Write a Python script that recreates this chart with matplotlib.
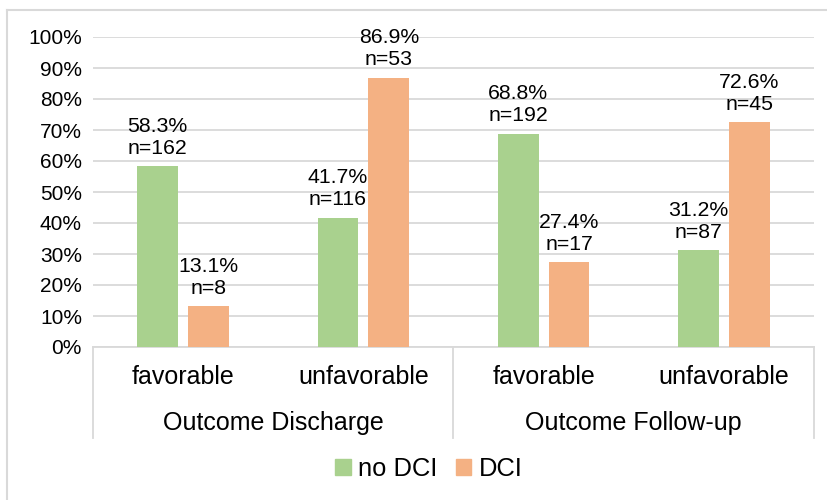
import numpy as np
import matplotlib.pyplot as plt
from matplotlib.lines import Line2D
from matplotlib.patches import Patch

plt.rcParams['font.family'] = ['Liberation Sans', 'DejaVu Sans']

# data
groups = ['Outcome Discharge', 'Outcome Follow-up']
outcomes = ['favorable', 'unfavorable', 'favorable', 'unfavorable']
no_dci_pct = [58.3, 41.7, 68.8, 31.2]
no_dci_n = [162, 116, 192, 87]
dci_pct = [13.1, 86.9, 27.4, 72.6]
dci_n = [8, 53, 17, 45]

green = '#A9D18E'
orange = '#F4B183'
grid_c = '#D9D9D9'

W, H = 828, 500
fig = plt.figure(figsize=(W / 100, H / 100), dpi=100)
ax = fig.add_axes([93 / W, 1 - 347 / H, (814 - 93) / W, (347 - 37) / H])

x = np.arange(len(outcomes))
bw = 0.227
off = 0.141
b1 = ax.bar(x - off, no_dci_pct, bw, color=green, zorder=3)
b2 = ax.bar(x + off, dci_pct, bw, color=orange, zorder=3)

for bars, pct, n in [(b1, no_dci_pct, no_dci_n), (b2, dci_pct, dci_n)]:
    for b, p, k in zip(bars, pct, n):
        ax.annotate(f'{p:.1f}%\nn={k}', (b.get_x() + b.get_width() / 2, p),
                    xytext=(0, 6), textcoords='offset points',
                    ha='center', va='bottom', fontsize=15.3, linespacing=1.2)

ax.set_xlim(-0.5, len(outcomes) - 0.5)
ax.set_ylim(0, 100)
ax.set_yticks(np.arange(0, 101, 10))
ax.set_yticklabels([f'{v}%' for v in range(0, 101, 10)], fontsize=15)
ax.yaxis.grid(True, color=grid_c, lw=1.3, zorder=0)
ax.tick_params(axis='y', length=0, pad=8)
ax.set_xticks([])
for s in ['top', 'right', 'left']:
    ax.spines[s].set_visible(False)
ax.spines['bottom'].set_color(grid_c)
ax.spines['bottom'].set_linewidth(1.3)

# two-level category axis
tr = ax.get_xaxis_transform()
for i, lab in enumerate(outcomes):
    ax.text(i, -0.097, lab, transform=tr, ha='center', va='center', fontsize=18)
for g, lab in enumerate(groups):
    ax.text(2 * g + 0.5, -0.245, lab, transform=tr, ha='center', va='center', fontsize=18)
for xd in [-0.5, 1.5, 3.5]:
    ax.add_line(Line2D([xd, xd], [0, -0.294], transform=tr, color=grid_c,
                       lw=1.3, clip_on=False))

# chart frame (left and top edges)
fig.add_artist(Line2D([7 / W, 7 / W], [0, 1 - 10 / H], color=grid_c, lw=1.5))
fig.add_artist(Line2D([7 / W, 1], [1 - 10 / H, 1 - 10 / H], color=grid_c, lw=1.5))

handles = [Patch(color=green), Patch(color=orange)]
fig.legend(handles, ['no DCI', 'DCI'], loc='center', bbox_to_anchor=(429 / W, 1 - 469 / H),
           ncol=2, frameon=False, fontsize=18.4, handlelength=0.6, handleheight=0.6,
           handletextpad=0.3, columnspacing=0.7)

fig.savefig('out.png', dpi=100)
